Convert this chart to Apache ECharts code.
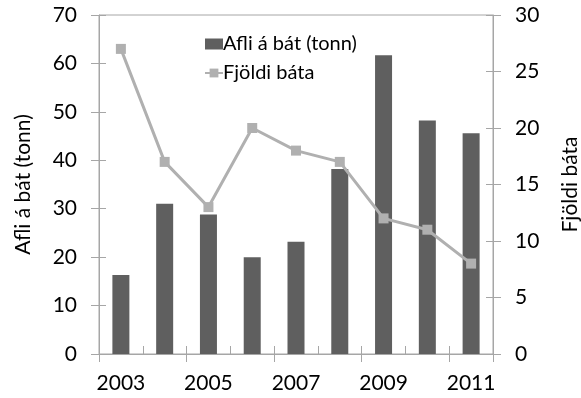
<!DOCTYPE html>
<html>
<head>
<meta charset="utf-8">
<script src="https://cdn.jsdelivr.net/npm/echarts@6/dist/echarts.min.js"></script>
<style>
html,body{margin:0;padding:0;background:#fff;}
#chart{width:581px;height:398px;}
</style>
</head>
<body>
<div id="chart"></div>
<script>
// Years on the category axis
const years = ['2003','2004','2005','2006','2007','2008','2009','2010','2011'];
// Catch per boat (tonnes), left axis
const catchPerBoat = [16.3, 31.0, 28.8, 20.0, 23.2, 38.2, 61.7, 48.2, 45.6];
// Number of boats, right axis
const boatCount = [27, 17, 13, 20, 18, 17, 12, 11, 8];

const FONT = 'Lato';
const AX = '#a6a6a6';

const chart = echarts.init(document.getElementById('chart'), null, {renderer: 'canvas'});

const yBase = {
  type: 'value',
  axisLine: {show: true, lineStyle: {color: AX, width: 1}},
  splitLine: {show: false},
  axisLabel: {color: '#000', fontFamily: FONT, fontSize: 21, margin: 22}
};

chart.setOption({
  animation: false,
  textStyle: {fontFamily: FONT},
  grid: {left: 99, right: 88, top: 15, bottom: 44, outerBoundsMode: 'none', containLabel: false,
         show: true, borderColor: AX, borderWidth: 1},
  legend: {
    orient: 'vertical',
    left: 199, top: 29,
    itemGap: 9,
    itemWidth: 18, itemHeight: 11,
    textStyle: {color: '#000', fontFamily: FONT, fontSize: 20, padding: [0,0,0,-5]},
    data: [
      {name: 'Afli á bát (tonn)', icon: 'rect'},
      {name: 'Fjöldi báta'}
    ]
  },
  xAxis: [
    {
      type: 'category', data: years,
      axisLine: {show: true, lineStyle: {color: AX}},
      axisTick: {show: true, alignWithLabel: false, length: 8, lineStyle: {color: AX}},
      axisLabel: {color: '#000', fontFamily: FONT, fontSize: 21, margin: 19, interval: 1}
    },
    {
      type: 'category', data: years, position: 'bottom',
      axisLine: {show: false},
      axisTick: {show: true, inside: true, length: 8, lineStyle: {color: AX}},
      axisLabel: {show: false}
    }
  ],
  yAxis: [
    Object.assign({}, yBase, {
      min: 0, max: 70, interval: 10, position: 'left',
      name: 'Afli á bát (tonn)', nameLocation: 'middle', nameGap: 65, nameRotate: 90,
      nameTextStyle: {color: '#000', fontFamily: FONT, fontSize: 21},
      axisTick: {show: true, length: 8, lineStyle: {color: AX}}
    }),
    Object.assign({}, yBase, {
      min: 0, max: 30, interval: 5, position: 'right',
      name: 'Fjöldi báta', nameLocation: 'middle', nameGap: 67, nameRotate: 90,
      nameTextStyle: {color: '#000', fontFamily: FONT, fontSize: 21},
      axisTick: {show: true, length: 8, lineStyle: {color: AX}}
    }),
    {
      type: 'value', min: 0, max: 70, interval: 10, position: 'left',
      axisLine: {show: false}, splitLine: {show: false}, axisLabel: {show: false},
      axisTick: {show: true, inside: true, length: 7, lineStyle: {color: AX}}
    },
    {
      type: 'value', min: 0, max: 30, interval: 5, position: 'right',
      axisLine: {show: false}, splitLine: {show: false}, axisLabel: {show: false},
      axisTick: {show: true, inside: true, length: 7, lineStyle: {color: AX}}
    }
  ],
  series: [
    {
      name: 'Afli á bát (tonn)', type: 'bar', data: catchPerBoat,
      xAxisIndex: 0, yAxisIndex: 0,
      barWidth: 17,
      itemStyle: {color: '#5f5f5f'}
    },
    {
      name: 'Fjöldi báta', type: 'line', data: boatCount,
      xAxisIndex: 0, yAxisIndex: 1,
      symbol: 'rect', symbolSize: 10,
      lineStyle: {color: '#b0b0b0', width: 3},
      itemStyle: {color: '#b0b0b0'}
    }
  ]
});
</script>
</body>
</html>
